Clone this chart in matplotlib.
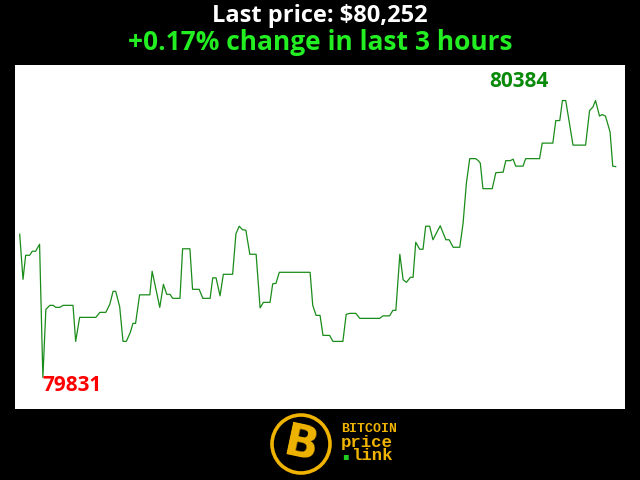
import matplotlib
matplotlib.use("Agg")
import matplotlib.pyplot as plt
from matplotlib.patches import Ellipse

plt.rcParams['font.family'] = "Open Sans"

# minutes since start of the 3 hour window, price in USD
minutes = [0, 1.0, 1.8, 3.0, 3.8, 4.8, 6.0, 7.0, 7.9, 9.1, 10.1, 10.9, 12.1, 13.1, 16.1, 16.9,
           18.1, 23.0, 24.2, 26.0, 27.2, 28.2, 29.0, 30.2, 31.2, 32.2, 33.4, 34.2, 35.0, 36.2,
           39.3, 40.0, 42.3, 43.4, 44.4, 45.4, 46.2, 48.4, 49.2, 51.4, 52.2, 54.2, 55.3, 57.5,
           58.3, 59.3, 60.5, 61.5, 64.3, 65.3, 66.3, 67.3, 68.3, 69.5, 71.4, 72.6, 73.6, 75.6,
           76.4, 77.4, 78.4, 87.7, 88.5, 89.5, 90.7, 91.6, 93.6, 94.6, 97.6, 98.6, 99.7, 101.5,
           102.7, 108.7, 109.7, 111.7, 112.7, 113.6, 114.8, 115.8, 116.8, 118.0, 118.8, 119.6,
           120.8, 121.8, 122.6, 123.8, 124.8, 127.0, 128.7, 129.7, 130.9, 132.9, 133.9, 134.9,
           135.9, 137.7, 138.5, 139.1, 139.9, 142.7, 143.8, 146.0, 146.8, 148.2, 149.0, 149.8,
           152.0, 152.8, 157.0, 157.8, 161.0, 161.9, 163.1, 163.9, 164.9, 166.1, 167.1, 170.9,
           172.1, 173.1, 173.9, 175.1, 175.9, 176.9, 178.3, 179.1, 180]
prices = [80117, 80027, 80075, 80075, 80083, 80083, 80097, 79831, 79967, 79975, 79975, 79971,
          79971, 79975, 79975, 79903, 79951, 79951, 79961, 79961, 79977, 80003, 80003, 79972,
          79903, 79903, 79921, 79939, 79939, 79996, 79996, 80043, 79971, 80017, 79997, 79997,
          79989, 79989, 80088, 80088, 80007, 80007, 79989, 79989, 80030, 80030, 79994, 80037,
          80037, 80118, 80133, 80126, 80125, 80077, 80077, 79970, 79981, 79981, 80018, 80019,
          80041, 80041, 79975, 79955, 79955, 79915, 79915, 79903, 79903, 79957, 79959, 79959,
          79949, 79949, 79954, 79954, 79965, 79965, 80077, 80026, 80021, 80031, 80031, 80101,
          80087, 80087, 80133, 80133, 80106, 80134, 80106, 80106, 80091, 80091, 80139, 80219,
          80268, 80268, 80264, 80259, 80208, 80208, 80240, 80241, 80264, 80264, 80267, 80253,
          80253, 80268, 80268, 80299, 80299, 80344, 80344, 80384, 80384, 80336, 80295, 80295,
          80364, 80371, 80384, 80353, 80356, 80353, 80321, 80253, 80252]

last_price = prices[-1]
change_pct = 0.17
hi = max(prices)
lo = min(prices)

fig = plt.figure(figsize=(6.4, 4.8), dpi=100, facecolor='black')
ax = fig.add_axes([15 / 640, 71 / 480, 610 / 640, 344 / 480])
ax.set_facecolor('white')
ax.plot(minutes, prices, color='#1a8c1a', lw=0.9)
ax.set_xlim(-1.42, 182.8)
ax.set_ylim(79768, 80455)
ax.set_xticks([])
ax.set_yticks([])
for s in ax.spines.values():
    s.set_visible(False)

# high / low labels
i_hi = prices.index(hi)
i_lo = prices.index(lo)
ax.annotate(str(hi), (minutes[i_hi], hi), xytext=(-31, 6), textcoords='offset points',
            ha='center', va='bottom', color='#0a8a0a', fontsize=15, fontweight='bold')
ax.annotate(str(lo), (minutes[i_lo], lo), xytext=(0, 2), textcoords='offset points',
            ha='left', va='top', color='#ff0000', fontsize=15, fontweight='bold')

# header
fig.text(0.5, 1 - 16 / 480, f"Last price: ${last_price:,}", ha='center', va='center',
         color='white', fontsize=17, fontweight='bold')
fig.text(0.5, 1 - 43 / 480, f"+{change_pct:.2f}% change in last 3 hours", ha='center',
         va='center', color='#22ee22', fontsize=19, fontweight='bold')

# logo
gold = '#f0b400'
fig.add_artist(Ellipse((301 / 640, 1 - 444 / 480), 58 / 640, 58 / 480,
                       transform=fig.transFigure, facecolor='black', edgecolor=gold, lw=2.6))
fig.text(301 / 640, 1 - 445 / 480, "B", ha='center', va='center', color=gold,
         fontsize=32, fontweight='bold', rotation=-12, family='DejaVu Sans')
fig.text(341 / 640, 1 - 429 / 480, "BITCOIN", ha='left', va='center', color=gold,
         fontsize=9.5, fontweight='bold', family='Liberation Mono')
fig.text(341 / 640, 1 - 442 / 480, "price", ha='left', va='center', color=gold,
         fontsize=12.5, fontweight='bold', family='Liberation Mono')
fig.text(342 / 640, 1 - 456 / 480, "\u25aa", ha='left', va='center', color='#22cc22',
         fontsize=7, family='DejaVu Sans')
fig.text(351 / 640, 1 - 456 / 480, "link", ha='left', va='center', color=gold,
         fontsize=12.5, fontweight='bold', family='Liberation Mono')

fig.savefig('out.png', dpi=100, facecolor='black')
